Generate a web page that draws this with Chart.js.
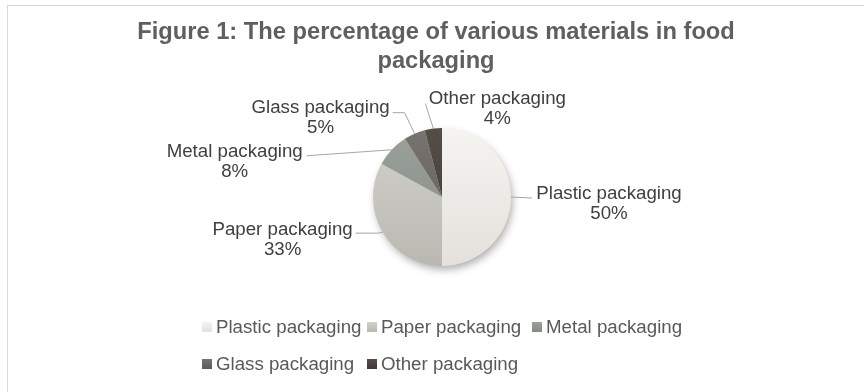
<!DOCTYPE html>
<html>
<head>
<meta charset="utf-8">
<script src="https://cdn.jsdelivr.net/npm/chart.js@4.4.1/dist/chart.umd.min.js"></script>
<style>
  html, body { margin: 0; padding: 0; background: #fff; }
</style>
</head>
<body>
<canvas id="chart" width="864" height="392"></canvas>
<script>
// data
const categories = ["Plastic packaging", "Paper packaging", "Metal packaging", "Glass packaging", "Other packaging"];
const percentages = [50, 33, 8, 5, 4];
const titleLines = ["Figure 1: The percentage of various materials in food", "packaging"];

// slice shading: [top colour, bottom colour]
const sliceShades = [
  ["#f6f4f1", "#e4e1dc"],
  ["#d2d2cc", "#b9b9b2"],
  ["#9aa09a", "#848a84"],
  ["#77736e", "#5f5b56"],
  ["#554d48", "#403834"]
];

// label text offset from the slice edge point and leader polyline (relative to edge)
const labelOffsets = [[98, 2], [-100, 3], [-157, 7], [-94, -21], [64, -25]];
const leaderPaths = [
  [[21, 1]],
  [[-4, 1], [-27, 1]],
  [[-85, 6]],
  [[-10, -21], [-22, -21]],
  [[-8, -25]]
];

const FONT = "'Liberation Sans', Arial, sans-serif";

function sliceFill(ctx) {
  const chart = ctx.chart;
  const area = chart.chartArea;
  if (!area) return sliceShades[ctx.dataIndex][0];
  const g = chart.ctx.createLinearGradient(0, area.top, 0, area.bottom);
  g.addColorStop(0, sliceShades[ctx.dataIndex][0]);
  g.addColorStop(1, sliceShades[ctx.dataIndex][1]);
  return g;
}

const framePlugin = {
  id: "frame",
  beforeDraw(chart) {
    const c = chart.ctx;
    c.save();
    c.fillStyle = "#ffffff";
    c.fillRect(0, 0, chart.width, chart.height);
    c.strokeStyle = "#d9d9d9";
    c.lineWidth = 1;
    c.strokeRect(7.5, 5.5, 880, 420);
    c.restore();
  },
  beforeDatasetsDraw(chart) {
    const arc = chart.getDatasetMeta(0).data[0];
    if (!arc) return;
    const c = chart.ctx;
    c.save();
    c.shadowColor = "rgba(0,0,0,0.35)";
    c.shadowBlur = 8;
    c.shadowOffsetX = 2;
    c.shadowOffsetY = 4;
    c.fillStyle = "#e0ddd8";
    c.beginPath();
    c.arc(arc.x, arc.y, arc.outerRadius - 1, 0, Math.PI * 2);
    c.fill();
    c.restore();
  },
  afterDraw(chart) {
    const c = chart.ctx;
    c.save();
    // title
    c.fillStyle = "#5f5f5f";
    c.font = "bold 23.7px " + FONT;
    c.textAlign = "center";
    c.textBaseline = "alphabetic";
    titleLines.forEach((t, i) => c.fillText(t, 436, 39 + i * 29));

    // data labels with leader lines
    const meta = chart.getDatasetMeta(0);
    meta.data.forEach((arc, i) => {
      const mid = (arc.startAngle + arc.endAngle) / 2;
      const ex = arc.x + Math.cos(mid) * arc.outerRadius;
      const ey = arc.y + Math.sin(mid) * arc.outerRadius;
      c.strokeStyle = "#a6a6a6";
      c.lineWidth = 1;
      c.beginPath();
      c.moveTo(ex, ey);
      leaderPaths[i].forEach(p => c.lineTo(ex + p[0], ey + p[1]));
      c.stroke();
      const lx = ex + labelOffsets[i][0];
      const ly = ey + labelOffsets[i][1];
      c.fillStyle = "#404040";
      c.font = "18.7px " + FONT;
      c.textAlign = "center";
      c.fillText(categories[i], lx, ly);
      c.fillText(percentages[i] + "%", lx, ly + 20);
    });

    // legend, three columns
    c.font = "18.7px " + FONT;
    c.textAlign = "left";
    c.textBaseline = "middle";
    categories.forEach((name, i) => {
      const col = i % 3, row = Math.floor(i / 3);
      const x = 202 + col * 165;
      const y = 327 + row * 37;
      const g = c.createLinearGradient(0, y - 5, 0, y + 5);
      g.addColorStop(0, sliceShades[i][0]);
      g.addColorStop(1, sliceShades[i][1]);
      c.fillStyle = g;
      c.fillRect(x, y - 5, 10, 10);
      c.fillStyle = "#595959";
      c.fillText(name, x + 14, y + 1);
    });
    c.restore();
  }
};

new Chart(document.getElementById("chart"), {
  type: "pie",
  data: {
    labels: categories,
    datasets: [{
      data: percentages,
      backgroundColor: sliceFill,
      borderWidth: 0
    }]
  },
  options: {
    responsive: false,
    animation: false,
    layout: { padding: { left: 373, right: 353, top: 128, bottom: 126 } },
    plugins: {
      legend: { display: false },
      title: { display: false },
      tooltip: { enabled: false }
    }
  },
  plugins: [framePlugin]
});
</script>
</body>
</html>
